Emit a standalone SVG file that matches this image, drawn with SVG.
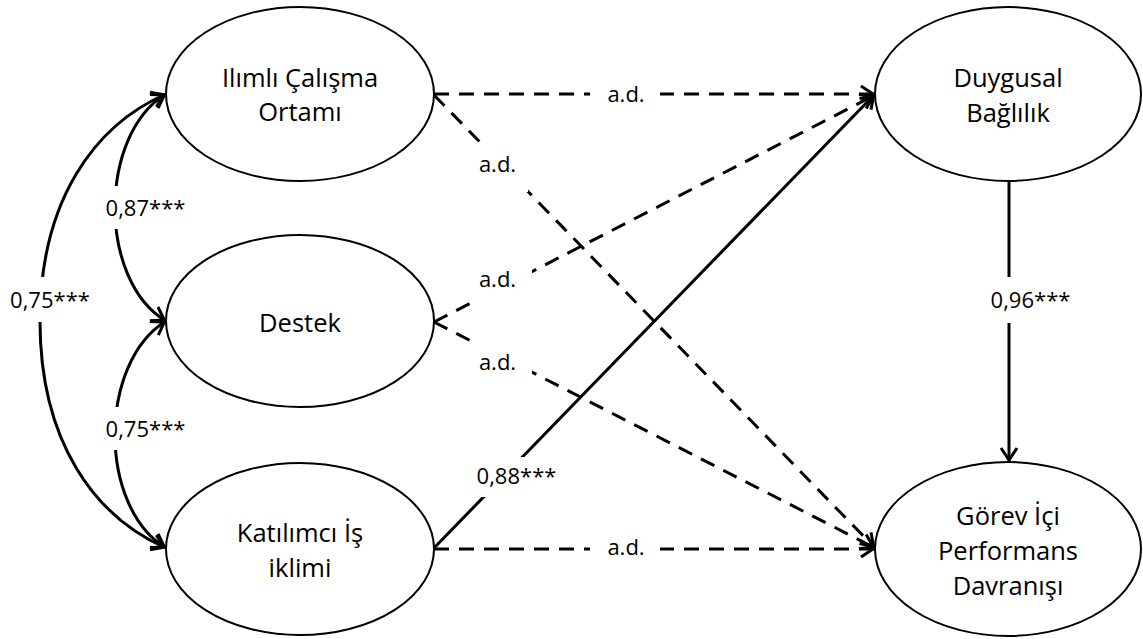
<svg xmlns="http://www.w3.org/2000/svg" width="1143" height="639" viewBox="0 0 1143 639">
<defs>
<style>
.node ellipse{fill:#fff;stroke:#000;stroke-width:2}
.node text{font-family:"Open Sans","Liberation Sans",sans-serif;font-size:25.5px;fill:#000;text-anchor:middle}
.c{fill:none;stroke:#000;stroke-width:3}
.d{stroke-dasharray:15 10}
.lbl rect{fill:#fff}
.lbl text{font-family:"Open Sans","Liberation Sans",sans-serif;font-size:22px;fill:#000;text-anchor:middle}
</style>
<marker id="ah" markerUnits="userSpaceOnUse" viewBox="-18 -10 20 20" refX="0" refY="0" markerWidth="20" markerHeight="20" orient="auto-start-reverse">
<path d="M-14,-8 L-2,0 L-14,8" fill="none" stroke="#000" stroke-width="3" stroke-dasharray="none"/>
</marker>
</defs>
<rect width="1143" height="639" fill="#fff"/>
<g id="node-ilimli" class="node">
<ellipse cx="300" cy="94" rx="134" ry="87"/>
<text x="300" y="87">Ilımlı Çalışma</text>
<text x="300" y="121">Ortamı</text>
</g>
<g id="node-destek" class="node">
<ellipse cx="300" cy="321" rx="134" ry="86"/>
<text x="300" y="332">Destek</text>
</g>
<g id="node-katilimci" class="node">
<ellipse cx="300" cy="549" rx="134" ry="86"/>
<text x="300" y="542">Katılımcı İş</text>
<text x="300" y="577">iklimi</text>
</g>
<g id="node-duygusal" class="node">
<ellipse cx="1008" cy="94" rx="133" ry="87"/>
<text x="1008" y="87">Duygusal</text>
<text x="1008" y="122">Bağlılık</text>
</g>
<g id="node-gorev" class="node">
<ellipse cx="1008" cy="549" rx="133" ry="87"/>
<text x="1008" y="525">Görev İçi</text>
<text x="1008" y="560">Performans</text>
<text x="1008" y="595">Davranışı</text>
</g>
<g id="connectors">
<path class="c" d="M166,94 C95,125 40,200 40,321 C40,442 95,517 166,548" marker-start="url(#ah)" marker-end="url(#ah)"/>
<path class="c" d="M166,94 C98,135 98,281 166,321" marker-start="url(#ah)" marker-end="url(#ah)"/>
<path class="c" d="M166,321 C98,363 98,507 166,548" marker-start="url(#ah)" marker-end="url(#ah)"/>
<path class="c d" d="M434,94 L875,94" marker-end="url(#ah)"/>
<path class="c d" d="M434,95 L875,548" marker-end="url(#ah)"/>
<path class="c d" d="M434,322 L875,95" marker-end="url(#ah)"/>
<path class="c d" d="M434,322 L875,548" marker-end="url(#ah)"/>
<path class="c" d="M434,548 L875,94" marker-end="url(#ah)"/>
<path class="c d" d="M434,549 L875,549" marker-end="url(#ah)"/>
<path class="c" d="M1009,181 L1009,462" marker-end="url(#ah)"/>
</g>
<g id="labels" class="lbl">
<rect x="100" y="186" width="90" height="43"/>
<text x="145.5" y="216">0,87***</text>
<rect x="4" y="277" width="92" height="45"/>
<text x="50" y="308">0,75***</text>
<rect x="100" y="407" width="90" height="43"/>
<text x="145.5" y="437">0,75***</text>
<rect x="590" y="82" width="70" height="26"/>
<text x="626" y="102">a.d.</text>
<rect x="472" y="142" width="56" height="50"/>
<text x="497.5" y="172">a.d.</text>
<rect x="470" y="266" width="62" height="36"/>
<text x="497.5" y="287">a.d.</text>
<rect x="470" y="343" width="62" height="32"/>
<text x="497.5" y="370">a.d.</text>
<rect x="472" y="457" width="90" height="40"/>
<text x="516.5" y="484">0,88***</text>
<rect x="590" y="536" width="70" height="26"/>
<text x="626" y="555">a.d.</text>
<rect x="985" y="277" width="90" height="46"/>
<text x="1030.5" y="308">0,96***</text>
</g>
</svg>
